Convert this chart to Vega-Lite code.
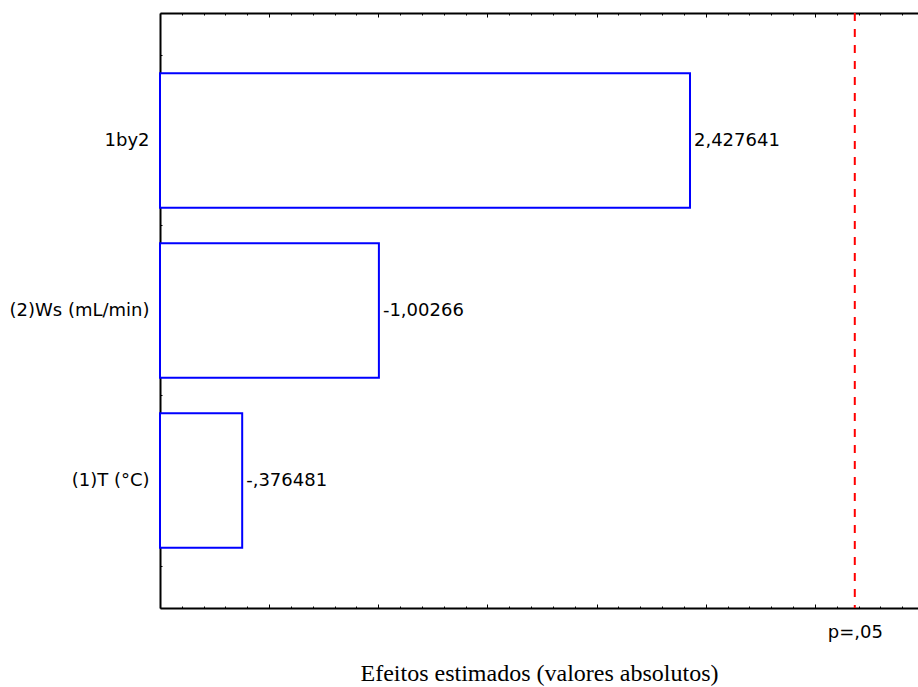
{
  "$schema": "https://vega.github.io/schema/vega-lite/v6.json",
  "width": 758,
  "height": 595,
  "autosize": {"type": "none"},
  "padding": {"left": 160, "top": 13, "right": 0, "bottom": 79},
  "background": "white",
  "config": {
    "view": {"stroke": null},
    "axis": {"grid": false, "domainColor": "black", "domainWidth": 2, "tickColor": "black", "tickWidth": 1}
  },
  "datasets": {
    "efeitos": [
      {"fator": "1by2", "valor": 2.427641, "rotulo": "2,427641"},
      {"fator": "(2)Ws (mL/min)", "valor": 1.00266, "rotulo": "-1,00266"},
      {"fator": "(1)T (°C)", "valor": 0.376481, "rotulo": "-,376481"}
    ],
    "limite": [
      {"p": 3.182446, "rotulo": "p=,05"}
    ]
  },
  "layer": [
    {
      "data": {"name": "efeitos"},
      "encoding": {
        "y": {
          "field": "fator", "type": "nominal", "sort": null,
          "scale": {"paddingInner": 0.21, "paddingOuter": 0.355},
          "axis": {
            "orient": "left", "title": null, "domain": false, "ticks": false,
            "labelFont": "DejaVu Sans", "labelFontSize": 18, "labelColor": "black", "labelPadding": 11
          }
        },
        "x": {
          "field": "valor", "type": "quantitative",
          "scale": {"domain": [0, 3.472], "nice": false, "zero": false},
          "axis": {
            "orient": "top", "title": null, "labels": false,
            "values": [0, 0.1, 0.2, 0.3, 0.4, 0.5, 0.6, 0.7, 0.8, 0.9, 1, 1.1, 1.2, 1.3, 1.4, 1.5, 1.6, 1.7, 1.8, 1.9, 2, 2.1, 2.2, 2.3, 2.4, 2.5, 2.6, 2.7, 2.8, 2.9, 3, 3.1, 3.2, 3.3, 3.4],
            "tickSize": {"condition": {"test": "abs(datum.value * 2 - round(datum.value * 2)) < 0.001", "value": -4}, "value": -2}
          }
        }
      },
      "layer": [
        {"mark": {"type": "bar", "fill": "white", "stroke": "#0000ff", "strokeWidth": 2}},
        {
          "mark": {"type": "text", "align": "left", "baseline": "middle", "dx": 4, "font": "DejaVu Sans", "fontSize": 18, "color": "black"},
          "encoding": {"text": {"field": "rotulo"}}
        }
      ]
    },
    {
      "data": {"name": "limite"},
      "mark": {"type": "rule", "color": "#ff0000", "strokeWidth": 2, "strokeDash": [8, 8]},
      "encoding": {
        "x": {
          "field": "p", "type": "quantitative",
          "scale": {"domain": [0, 3.472], "nice": false, "zero": false},
          "axis": {
            "orient": "bottom",
            "title": "Efeitos estimados (valores absolutos)",
            "titleFont": "Liberation Serif", "titleFontSize": 24, "titleFontWeight": "normal", "titleColor": "black", "titlePadding": 20,
            "values": [0, 0.1, 0.2, 0.3, 0.4, 0.5, 0.6, 0.7, 0.8, 0.9, 1, 1.1, 1.2, 1.3, 1.4, 1.5, 1.6, 1.7, 1.8, 1.9, 2, 2.1, 2.2, 2.3, 2.4, 2.5, 2.6, 2.7, 2.8, 2.9, 3, 3.1, 3.182446, 3.2, 3.3, 3.4],
            "labelExpr": "datum.value > 3.18 && datum.value < 3.19 ? 'p=,05' : ''",
            "labelFont": "DejaVu Sans", "labelFontSize": 18, "labelColor": "black", "labelPadding": 17,
            "labelOverlap": false, "labelFlush": false, "labelBaseline": "top",
            "tickOpacity": {"condition": {"test": "datum.value > 3.18 && datum.value < 3.19", "value": 0}, "value": 1},
            "tickSize": {"condition": {"test": "abs(datum.value * 2 - round(datum.value * 2)) < 0.001", "value": -4}, "value": -2}
          }
        }
      }
    },
    {
      "data": {"values": [{}]},
      "mark": {"type": "point", "opacity": 0},
      "encoding": {
        "y": {
          "datum": 1, "type": "quantitative",
          "scale": {"domain": [0.25, 3.75], "nice": false, "zero": false},
          "axis": {
            "orient": "left", "title": null, "labels": false,
            "values": [0.5, 0.75, 1, 1.25, 1.5, 1.75, 2, 2.25, 2.5, 2.75, 3, 3.25, 3.5],
            "tickSize": {"condition": {"test": "abs(datum.value - round(datum.value)) < 0.001", "value": -3}, "value": -2}
          }
        }
      }
    }
  ],
  "resolve": {
    "scale": {"y": "independent"},
    "axis": {"x": "independent", "y": "independent"}
  }
}
